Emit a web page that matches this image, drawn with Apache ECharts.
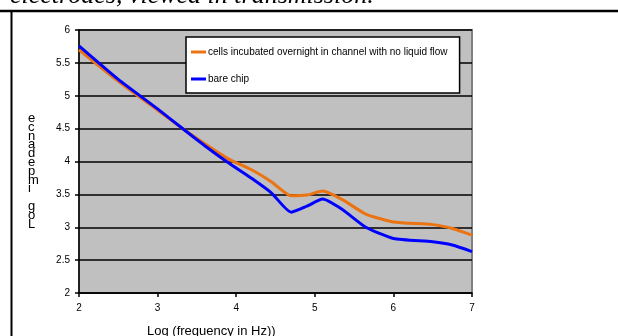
<!DOCTYPE html>
<html>
<head>
<meta charset="utf-8">
<script src="https://cdn.jsdelivr.net/npm/echarts@6/dist/echarts.min.js"></script>
<style>
html,body{margin:0;padding:0;background:#fff;}
#chart{width:618px;height:336px;}
</style>
</head>
<body>
<div id="chart"></div>
<script>
var titleText = "electrodes, viewed in transmission.";
var xAxisTitle = "Log (frequency in Hz))";
var yAxisTitle = "Log impedance";
var seriesNames = ["cells incubated overnight in channel with no liquid flow", "bare chip"];
var logFreq = [2, 2.5, 3, 3.33, 3.6, 3.9, 4.2, 4.45, 4.7, 4.9, 5.1, 5.35, 5.65, 6.0, 6.5, 6.75, 7];
var cellsValues = [5.70, 5.22, 4.78, 4.49, 4.27, 4.04, 3.87, 3.69, 3.48, 3.49, 3.55, 3.42, 3.20, 3.08, 3.04, 2.98, 2.88];
var bareValues = [5.76, 5.25, 4.80, 4.49, 4.24, 3.98, 3.74, 3.52, 3.23, 3.32, 3.43, 3.27, 3.00, 2.83, 2.78, 2.73, 2.63];

function pairs(xs, ys){ return xs.map(function(x,i){ return [x, ys[i]]; }); }
var stacked = yAxisTitle.split('').reverse().join('\n');

var chart = echarts.init(document.getElementById('chart'), null, {renderer:'canvas'});
chart.setOption({
  animation:false,
  backgroundColor:'#ffffff',
  textStyle:{fontFamily:'"Liberation Sans", Arial, sans-serif'},
  grid:{left:79, top:30, right:146, bottom:43, show:true, backgroundColor:'#C0C0C0', borderColor:'#808080', borderWidth:2},
  legend:{
    orient:'vertical', left:186, top:37,
    padding:[9,12,8,5], itemGap:15,
    backgroundColor:'#ffffff', borderColor:'#000', borderWidth:1.5,
    icon:'rect', itemWidth:15, itemHeight:3,
    textStyle:{fontSize:10, color:'#000', padding:[0,0,0,-3], lineHeight:12, height:12},
    data:seriesNames
  },
  xAxis:{
    type:'value', min:2, max:7, interval:1,
    axisLine:{lineStyle:{color:'#000', width:1.5}},
    axisTick:{show:true, length:4, lineStyle:{color:'#000', width:1.5}},
    axisLabel:{fontSize:10, color:'#000', margin:10},
    splitLine:{show:false}
  },
  yAxis:{
    type:'value', min:2, max:6, interval:0.5,
    axisLine:{show:true, lineStyle:{color:'#000', width:1.5}},
    axisTick:{show:true, length:4, lineStyle:{color:'#000', width:1.5}},
    axisLabel:{fontSize:10, color:'#000', margin:9},
    splitLine:{show:true, lineStyle:{color:'#000', width:1.5}}
  },
  series:[
    {name:seriesNames[0], type:'line', data:pairs(logFreq, cellsValues), smooth:0.2, showSymbol:false, symbol:'none',
     lineStyle:{color:'#EC7311', width:3}, itemStyle:{color:'#EC7311'}},
    {name:seriesNames[1], type:'line', data:pairs(logFreq, bareValues), smooth:0.2, showSymbol:false, symbol:'none',
     lineStyle:{color:'#0000FF', width:3}, itemStyle:{color:'#0000FF'}}
  ],
  graphic:[
    {type:'line', shape:{x1:0, y1:11, x2:618, y2:11}, style:{stroke:'#000', lineWidth:2.5}},
    {type:'line', shape:{x1:11.5, y1:11, x2:11.5, y2:336}, style:{stroke:'#000', lineWidth:2}},
    {type:'text', left:10, top:-17, style:{text:titleText, font:'italic 26px "Liberation Serif", "Times New Roman", serif', fill:'#000'}},
    {type:'text', left:28, top:112, style:{text:stacked, font:'13px "Liberation Sans", Arial, sans-serif', fill:'#000', lineHeight:8.8, align:'center'}},
    {type:'text', left:147, top:325, style:{text:xAxisTitle, font:'13px "Liberation Sans", Arial, sans-serif', fill:'#000'}}
  ]
});
</script>
</body>
</html>
